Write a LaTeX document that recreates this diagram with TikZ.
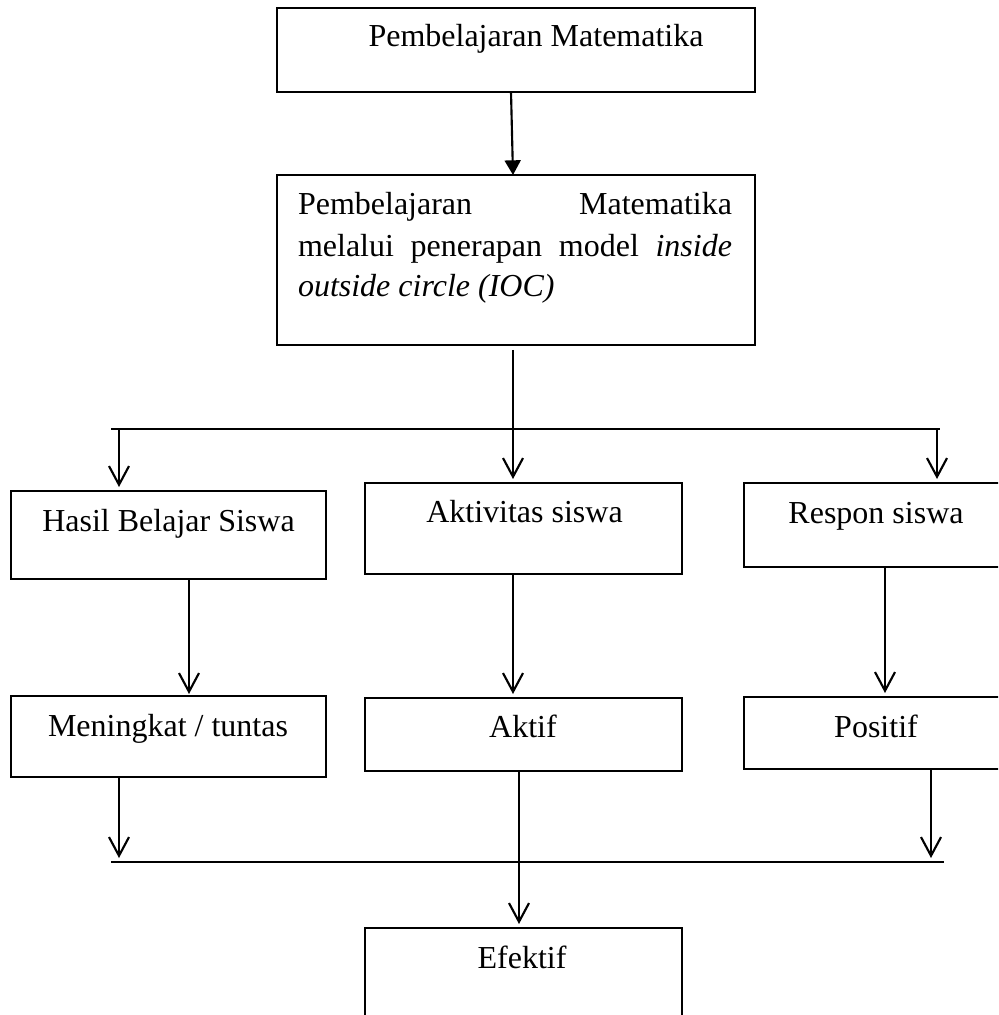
\documentclass[tikz,border=0pt]{standalone}
\usepackage{fontspec}
\setmainfont{Liberation Serif}
\usetikzlibrary{arrows.meta,calc}
\tikzset{
  box/.style={draw, line width=0.8pt, inner sep=0pt, outer sep=0pt, rectangle},
  txt/.style={inner sep=0pt, outer sep=0pt, font=\fontsize{12}{14}\selectfont},
  ln/.style={line width=0.8pt},
  arr/.style={line width=0.8pt, -{Straight Barb[length=7pt,width=7.5pt]}},
  farr/.style={line width=0.8pt, -{Triangle[length=5.5pt,width=6pt]}}
}
\begin{document}
\begin{tikzpicture}[x=0.375pt, y=-0.375pt]
\useasboundingbox (0,0) rectangle (998,1015);
\clip (0,0) rectangle (998,1015);
% boxes
\node[box, minimum width=179.25pt, minimum height=31.5pt] (b1) at (516,50) {};
\node[box, minimum width=179.25pt, minimum height=63.75pt] (b2) at (516,260) {};
\node[box, minimum width=118.125pt, minimum height=33pt] (b3) at (168.5,535) {};
\node[box, minimum width=118.875pt, minimum height=34.125pt] (b4) at (523.5,528.5) {};
\node[box, minimum width=99pt, minimum height=31.5pt] (b5) at (876,525) {};
\node[box, minimum width=118.125pt, minimum height=30.375pt] (b6) at (168.5,736.5) {};
\node[box, minimum width=118.875pt, minimum height=27.375pt] (b7) at (523.5,734.5) {};
\node[box, minimum width=99pt, minimum height=27pt] (b8) at (876,733) {};
\node[box, minimum width=118.875pt, minimum height=37.5pt] (b9) at (523.5,978) {};
% texts
\node[txt, anchor=base] (x1) at (536,47) {Pembelajaran Matematika};
\node[txt, anchor=base west] (x2a) at (298,215) {\hbox to 162.75pt{Pembelajaran\hfill Matematika}};
\node[txt, anchor=base west] (x2b) at (298,257) {\hbox to 162.75pt{melalui\hfill penerapan\hfill model\hfill \textit{inside}}};
\node[txt, anchor=base west] (x2c) at (298,297) {\textit{outside circle (IOC)}};
\node[txt, anchor=base] (x3) at (168.5,531) {Hasil Belajar Siswa};
\node[txt, anchor=base] (x4) at (524.5,522) {Aktivitas siswa};
\node[txt, anchor=base] (x5) at (876,523) {Respon siswa};
\node[txt, anchor=base] (x6) at (168,736) {Meningkat / tuntas};
\node[txt, anchor=base] (x7) at (523,737) {Aktif};
\node[txt, anchor=base] (x8) at (876,737) {Positif};
\node[txt, anchor=base] (x9) at (522,968) {Efektif};
% junction coordinates
\coordinate (bl) at (111,429);
\coordinate (br) at (940,429);
\coordinate (t1) at (119,429);
\coordinate (t3) at (937,429);
\coordinate (t2) at ([xshift=-1.125pt,yshift=-1.875pt]b2.south);
\coordinate (ll) at (111,862);
\coordinate (lr) at (944,862);
% connectors
\draw[farr] ([xshift=-1.875pt]b1.south) -- ([xshift=-1.125pt]b2.north);
\draw[ln] (bl) -- (br);
\draw[arr, shorten >=1.5pt] (t1) -- (t1 |- b3.north);
\draw[arr, shorten >=1.5pt] (t2) -- (t2 |- b4.north);
\draw[arr, shorten >=1.5pt] (t3) -- (t3 |- b5.north);
\draw[arr, shorten >=0.75pt] ([xshift=7.6875pt]b3.south) -- ([xshift=7.6875pt]b6.north);
\draw[arr, shorten >=1.5pt] ([xshift=-3.9375pt]b4.south) -- ([xshift=-3.9375pt]b7.north);
\draw[arr, shorten >=1.5pt] ([xshift=3.375pt]b5.south) -- ([xshift=3.375pt]b8.north);
\draw[ln] (ll) -- (lr);
\draw[arr, shorten >=1.5pt] ([xshift=-18.5625pt]b6.south) -- ([xshift=-18.5625pt]b6.south |- ll);
\draw[arr, shorten >=1.5pt] ([xshift=20.625pt]b8.south) -- ([xshift=20.625pt]b8.south |- ll);
\draw[arr, shorten >=1.5pt] ([xshift=-1.6875pt]b7.south) -- ([xshift=-1.6875pt]b9.north);
\end{tikzpicture}
\end{document}
